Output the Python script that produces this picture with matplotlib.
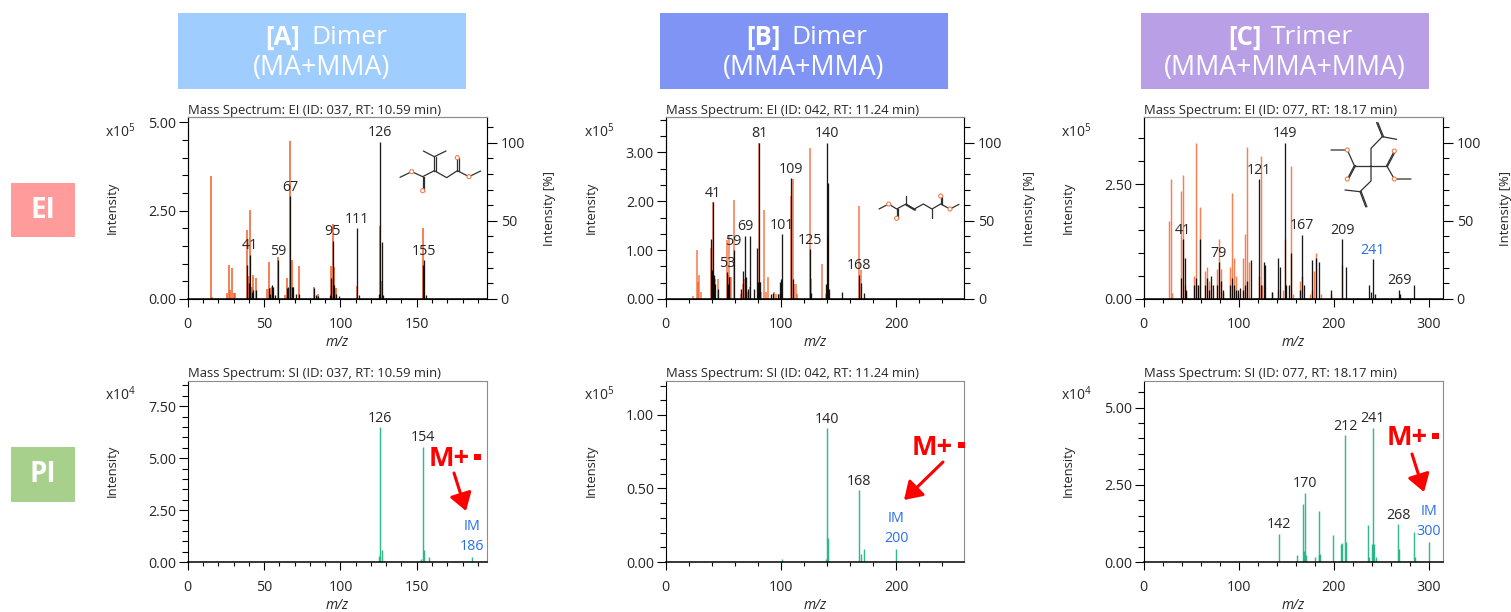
import matplotlib
matplotlib.use("Agg")
import matplotlib.pyplot as plt
from matplotlib.ticker import MultipleLocator, FormatStrFormatter
from matplotlib.patches import Rectangle, Circle

plt.rcParams['font.family'] = ['Open Sans', 'Noto Sans', 'DejaVu Sans']
plt.rcParams['mathtext.fontset'] = 'custom'
plt.rcParams['mathtext.rm'] = 'Open Sans'
plt.rcParams['mathtext.it'] = 'Open Sans:italic'

W, H = 1511, 612
TXT = "#262626"
BLUE = "#2a6fe8"
ORANGE = "#f4561a"
GREEN = "#12ad7c"

# EI spectra, black = measured, orange = library (left axis units)
a_ei_mz = [39,40,41,42,43,45,53,54,55,56,57,59,65,66,67,68,69,71,73,83,84,85,93,94,95,96,97,99,111,112,125,126,127,128,154,155,156,158]
a_ei_y = [.96,.45,1.25,.2,.25,.25,.3,.15,.4,.35,.12,1.1,.3,.35,2.9,.35,.35,.15,.15,.3,.1,.08,.1,.6,1.65,.4,.15,.08,2.0,.12,.15,4.45,1.6,.1,.95,1.1,.1,.03]
a_lib_mz = [15,16,26,27,28,29,30,31,39,40,41,42,43,45,52,53,54,55,56,59,64,65,67,68,69,73,83,85,94,95,96,97,111,126,127,154,155]
a_lib_y = [3.47,.05,.17,.95,.25,.87,.18,.18,1.95,.65,2.52,.35,.68,.58,.27,1.05,.3,.35,.2,1.2,.1,.6,4.47,1.1,.35,.93,.33,.15,.93,2.13,.9,.3,.38,2.07,.5,2.0,.8]

b_ei_mz = [39,40,41,42,43,45,53,54,55,59,65,67,69,70,71,73,77,79,80,81,82,91,93,97,99,100,101,109,110,125,126,139,140,141,142,153,168,169,172]
b_ei_y = [1.22,.6,1.98,.5,.3,.2,.55,.3,.45,1.0,.2,.58,1.3,.45,.2,1.3,.2,1.05,.35,3.2,.35,.1,.12,.1,.35,.4,1.33,2.47,.4,1.02,.12,.3,3.2,2.37,.2,.15,.5,.33,.13]
b_lib_mz = [24,27,28,29,31,39,40,41,42,43,45,53,54,55,56,57,59,65,67,69,71,73,81,82,83,85,87,89,94,96,98,100,109,110,111,113,114,125,126,136,139,141,142,168,169]
b_lib_y = [.06,1.0,.35,.5,.15,1.05,.5,1.98,.45,.4,.4,1.2,.5,1.3,.45,.45,2.02,.1,.3,.4,.15,.25,3.2,.35,.15,1.82,.15,.45,.15,.1,.1,.1,2.1,2.45,.3,.3,.1,3.1,.4,.72,.1,1.3,.1,1.9,.6]

c_ei_mz = [39,41,43,45,53,55,57,59,65,67,69,71,73,77,79,81,83,91,93,95,97,99,101,105,107,109,113,121,123,127,128,135,141,143,149,150,153,155,165,167,169,177,181,185,197,209,213,225,237,239,241,243,269,270,285,300]
c_ei_y = [.45,1.3,.9,.2,.3,.45,.3,1.3,.3,.45,.2,.5,.3,.3,.8,.4,.2,.3,.45,.3,.2,.2,.25,.2,.3,.4,.85,2.6,.3,.8,.75,.15,.9,.7,3.4,.3,.3,1.0,.2,1.4,.3,.85,.9,.8,.2,1.3,.7,.03,.3,.15,.87,.1,.2,.1,.3,.02]
c_lib_mz = [27,29,30,39,41,43,45,53,55,57,59,65,67,69,71,77,79,81,83,91,93,95,97,99,105,107,109,111,121,123,125,135,141,147,149,155,157,165,167,175,177,179,181,187,197,209]
c_lib_y = [1.7,2.6,.12,2.35,2.7,.3,.15,.5,3.4,.3,2.0,.6,.7,.4,.3,.65,1.3,.65,.15,.7,2.3,.9,.5,.1,.9,1.42,3.3,.8,.5,3.1,.3,.15,.2,.2,1.3,2.9,.1,.4,.5,.1,.2,.6,1.0,.1,.1,.75]

# PI spectra
a_si_mz = [125,126,127,153,154,155,158,186]
a_si_y = [.3,6.5,.6,.15,5.55,.6,.25,.25]
b_si_mz = [101,139,140,141,168,169,172,200]
b_si_y = [.02,.02,.91,.165,.49,.055,.09,.09]
c_si_mz = [142,161,168,169,170,171,180,184,185,186,199,208,209,212,213,236,237,240,241,242,244,268,269,285,286,300]
c_si_y = [.92,.22,1.88,.35,2.25,.22,.15,.22,1.65,.25,.89,.58,.6,4.1,.65,1.2,.17,.58,4.35,.58,.15,1.23,.42,.98,.15,.65]

# peak labels
a_ei_labels = [41,59,67,95,111,126,155]
b_ei_labels = [41,53,59,69,81,101,109,125,140,168]
c_ei_labels = [41,79,121,149,167,209,241,269]
a_si_labels = [126,154]
b_si_labels = [140,168]
c_si_labels = [142,170,212,241,268]

titles = ["037, RT: 10.59", "042, RT: 11.24", "077, RT: 18.17"]
head_tag = ["[A]", "[B]", "[C]"]
head_kind = ["Dimer", "Dimer", "Trimer"]
head_sub = ["(MA+MMA)", "(MMA+MMA)", "(MMA+MMA+MMA)"]
head_col = ["#9fcdfe", "#8094f6", "#b89fe6"]


def axes_px(l, t, r, b):
    return fig.add_axes([l / W, 1 - b / H, (r - l) / W, (b - t) / H])


def style(ax, xmax, ymax, xmaj, xmin, ymaj, ymin):
    ax.set_xlim(0, xmax)
    ax.set_ylim(0, ymax)
    ax.xaxis.set_major_locator(MultipleLocator(xmaj))
    ax.xaxis.set_minor_locator(MultipleLocator(xmin))
    ax.yaxis.set_major_locator(MultipleLocator(ymaj))
    ax.yaxis.set_minor_locator(MultipleLocator(ymin))
    ax.yaxis.set_major_formatter(FormatStrFormatter('%.2f'))
    ax.tick_params(axis='x', which='major', length=6, width=.8, labelsize=10.3, pad=7, labelcolor=TXT)
    ax.tick_params(axis='x', which='minor', length=3, width=.8)
    ax.tick_params(axis='y', which='major', length=6.5, width=.8, labelsize=10.3, pad=2, labelcolor=TXT)
    ax.tick_params(axis='y', which='minor', length=4, width=.8)
    ax.spines['top'].set_color('#8c8c8c')
    ax.spines['right'].set_color('#8c8c8c')
    ax.spines['bottom'].set_linewidth(1.1)
    ax.patch.set_alpha(0)
    ax.set_xlabel("m/z", fontsize=10, style='italic', color=TXT, va='center')
    ax.xaxis.set_label_coords(.5, -.238)


def peaks(ax, mz, y, color, lw, alpha=1.0):
    ax.vlines(mz, 0, y, colors=color, linewidth=lw, alpha=alpha)


def labels(ax, mz, y, which, blue=()):
    for m in which:
        ax.annotate(str(m), (m, y[mz.index(m)]), xytext=(0, 1), textcoords='offset points',
                    ha='center', va='bottom', fontsize=10.3,
                    color=BLUE if m in blue else TXT)


fig = plt.figure(figsize=(W / 100, H / 100), dpi=100)

lefts = [187.7, 665.7, 1143.7]
rights = [486.7, 964.3, 1442.7]
xmaxs = [195.8, 259, 314.7]
xmajs = [50, 100, 100]
xmins = [10, 20, 20]
lib_widths = [1.4, 1.15, 1.05]

# top row
ei = [(a_ei_mz, a_ei_y, a_lib_mz, a_lib_y, a_ei_labels, 5.14, 2.5, .5),
      (b_ei_mz, b_ei_y, b_lib_mz, b_lib_y, b_ei_labels, 3.72, 1.0, 1 / 3),
      (c_ei_mz, c_ei_y, c_lib_mz, c_lib_y, c_ei_labels, 3.95, 2.5, .5)]
for i, (mz, y, lmz, ly, lab, ymax, ymaj, ymin) in enumerate(ei):
    ax = axes_px(lefts[i], 117.3, rights[i], 299)
    style(ax, xmaxs[i], ymax, xmajs[i], xmins[i], ymaj, ymin)
    peaks(ax, lmz, ly, ORANGE, lib_widths[i], .75)
    peaks(ax, mz, y, "#000000", .95, .9)
    labels(ax, mz, y, lab, blue=(241,))
    ax.set_title("Mass Spectrum: EI (ID: " + titles[i] + " min)", fontsize=9.4, color=TXT, pad=2.5, loc='left')
    ax2 = ax.twinx()
    ax2.set_ylim(0, 116.2)
    ax2.yaxis.set_major_locator(MultipleLocator(50))
    ax2.yaxis.set_minor_locator(MultipleLocator(10))
    ax2.tick_params(axis='y', which='major', length=7, width=.8, labelsize=10.3, pad=3, labelcolor=TXT)
    ax2.tick_params(axis='y', which='minor', length=4, width=.8)
    ax2.spines['top'].set_color('#8c8c8c')

# bottom row
si = [(a_si_mz, a_si_y, a_si_labels, 8.73, 2.5, .5),
      (b_si_mz, b_si_y, b_si_labels, 1.233, .5, .1),
      (c_si_mz, c_si_y, c_si_labels, 5.87, 2.5, .5)]
for i, (mz, y, lab, ymax, ymaj, ymin) in enumerate(si):
    ax = axes_px(lefts[i], 380.7, rights[i], 562)
    style(ax, xmaxs[i], ymax, xmajs[i], xmins[i], ymaj, ymin)
    peaks(ax, mz, y, GREEN, 1.05, .85)
    labels(ax, mz, y, lab)
    ax.annotate("IM\n" + str(mz[-1]), (mz[-1], y[-1]), xytext=(0, 2), textcoords='offset points',
                ha='center', va='bottom', fontsize=10.3, color=BLUE, linespacing=1.45)
    ax.set_title("Mass Spectrum: SI (ID: " + titles[i] + " min)", fontsize=9.4, color=TXT, pad=2.5, loc='left')

# overlay in pixels for the boxes, molecules and loose text
ov = fig.add_axes([0, 0, 1, 1], zorder=5)
ov.set_xlim(0, W)
ov.set_ylim(H, 0)
ov.axis('off')

box_left = [178, 660, 1141]
tag_right = [300, 781, 1262]
kind_left = [311, 791, 1271]
for i in range(3):
    ov.add_patch(Rectangle((box_left[i], 13), 288, 76, color=head_col[i], lw=0))
    ov.text(tag_right[i], 37, head_tag[i], fontsize=18.5, weight='bold', color='white', ha='right', va='center')
    ov.text(kind_left[i], 37, head_kind[i], fontsize=19, color='white', ha='left', va='center')
    ov.text(box_left[i] + 144, 68, head_sub[i], fontsize=19.3, color='white', ha='center', va='center')

ov.add_patch(Rectangle((11, 183), 64, 54, color="#ff9b9b", lw=0))
ov.text(43, 210, "EI", fontsize=20, weight='bold', color='white', ha='center', va='center')
ov.add_patch(Rectangle((11, 447), 64, 55, color="#a8d08d", lw=0))
ov.text(43, 474, "PI", fontsize=20, weight='bold', color='white', ha='center', va='center')

offs = [105, 584, 1061]
for i in range(3):
    ov.text(offs[i], 132, "x10$^{5}$", fontsize=10, color=TXT, ha='left', va='center')
    ov.text(offs[i], 395, ["x10$^{4}$", "x10$^{5}$", "x10$^{4}$"][i], fontsize=10, color=TXT, ha='left', va='center')
    ov.text(offs[i] + 7, 208, "Intensity", fontsize=9.4, color=TXT, rotation=90, ha='center', va='center')
    ov.text(offs[i] + 7, 471, "Intensity", fontsize=9.4, color=TXT, rotation=90, ha='center', va='center')
    ov.text([550, 1029, 1506][i], 208, "Intensity [%]", fontsize=9.4, color=TXT, rotation=90, ha='center', va='center')

# M+ callouts
mplus = [(429, 459, 477, 457), (912, 448, 961, 445), (1387, 438, 1435, 436)]
for x, y, sx, sy in mplus:
    ov.text(x, y, "M+", fontsize=19.5, weight='bold', color='#ff0000', ha='left', va='center')
    ov.add_patch(Rectangle((sx - 3.5, sy - 3), 7, 6, color='#ff0000', lw=0))
arrows = [((454, 473), (466, 511)), ((943, 462), (904, 500)), ((1412, 454), (1424, 492))]
for start, end in arrows:
    ov.annotate("", xy=end, xytext=start,
                arrowprops=dict(arrowstyle='-|>,head_length=0.7,head_width=0.45', color='#ff0000', lw=2.2,
                                shrinkA=0, shrinkB=0, mutation_scale=15))


def molecule(x0, y0, bonds, doubles, oxygens):
    pts = lambda p: (x0 + p[0] / 3, y0 + p[1] / 3)
    for line in bonds:
        xs, ys = zip(*[pts(p) for p in line])
        ov.plot(xs, ys, color='#303030', lw=.9, solid_capstyle='round')
    for p, q in doubles:
        (x1, y1), (x2, y2) = pts(p), pts(q)
        ov.plot([x1, x2], [y1, y2], color='#303030', lw=.9)
        ov.plot([x1 + 1.2, x2 + 1.2], [y1, y2], color='#303030', lw=.9)
    for p in oxygens:
        ov.add_patch(Circle(pts(p), 2.0, fc='white', ec='#f08050', lw=.8, zorder=4))


molecule(100, 95,
         [[(900, 247), (935, 230), (968, 245), (1003, 227), (1040, 248), (1072, 227), (1107, 245), (1142, 228)],
          [(970, 168), (1003, 185), (1038, 168)]],
         [((968, 245), (968, 287)), ((1072, 227), (1072, 188)), ((1003, 227), (1003, 185))],
         [(935, 230), (968, 287), (1072, 188), (1107, 245)])
molecule(580, 95,
         [[(897, 342), (926, 327), (950, 342), (978, 327), (1003, 342), (1030, 327), (1056, 342), (1082, 327), (1110, 342), (1137, 328)],
          [(978, 327), (978, 303)], [(1056, 342), (1056, 368)]],
         [((950, 342), (950, 370)), ((1082, 327), (1082, 303)), ((978, 330), (1003, 345))],
         [(926, 327), (950, 370), (1082, 303), (1110, 342)])
molecule(1055, 95,
         [[(898, 212), (995, 212)], [(828, 165), (877, 165), (898, 212)], [(995, 212), (1018, 252), (1068, 252)],
          [(948, 212), (948, 160), (982, 125), (1025, 133)], [(948, 212), (948, 258), (915, 290), (870, 285)]],
         [((898, 212), (877, 252)), ((995, 212), (1018, 168)), ((982, 125), (965, 83)), ((915, 290), (932, 335))],
         [(877, 165), (877, 252), (1018, 168), (1018, 252)])

fig.savefig("out.png", dpi=100)
